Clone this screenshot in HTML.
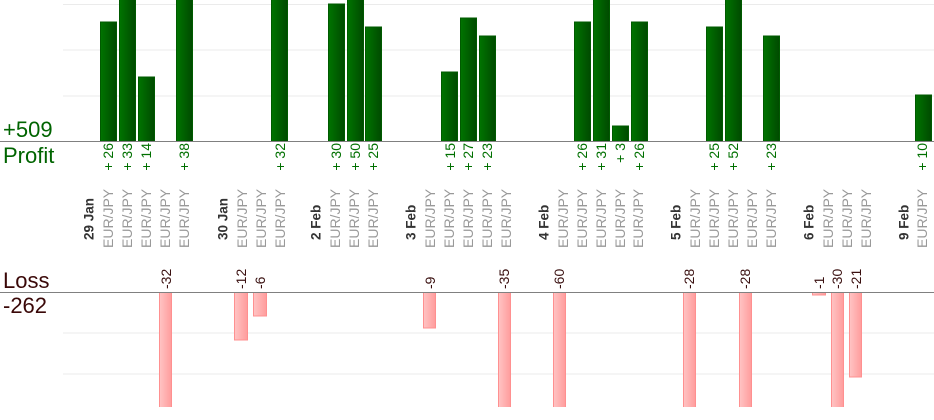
<!DOCTYPE html>
<html><head><meta charset="utf-8"><style>
html,body{margin:0;padding:0;background:#fff;}
svg{display:block;font-family:"Liberation Sans",sans-serif;}
</style></head><body>
<svg width="934" height="420" xmlns="http://www.w3.org/2000/svg">
<defs>
<linearGradient id="g" x1="0" x2="1" y1="0" y2="0"><stop offset="0" stop-color="#007400"/><stop offset="1" stop-color="#004a00"/></linearGradient>
<linearGradient id="r" x1="0" x2="1" y1="0" y2="0"><stop offset="0" stop-color="#ffc4c4"/><stop offset="1" stop-color="#ff9c9c"/></linearGradient>
<clipPath id="cp"><rect x="0" y="0" width="934" height="141"/></clipPath>
<clipPath id="cl"><rect x="0" y="292" width="934" height="115"/></clipPath>
</defs>
<g stroke="#ebebeb" stroke-width="1">
<line x1="63" x2="934" y1="4.5" y2="4.5"/><line x1="63" x2="934" y1="50" y2="50"/><line x1="63" x2="934" y1="96" y2="96"/>
<line x1="63" x2="934" y1="333" y2="333"/><line x1="63" x2="934" y1="374" y2="374"/>
</g>
<g clip-path="url(#cp)" fill="url(#g)" stroke="#005a00" stroke-width="1">
<rect x="100.5" y="22" width="16" height="120"/>
<rect x="119.5" y="-10" width="16" height="152"/>
<rect x="138.5" y="77" width="16" height="65"/>
<rect x="176.5" y="-10" width="16" height="152"/>
<rect x="271.5" y="-10" width="16" height="152"/>
<rect x="328.5" y="4" width="16" height="138"/>
<rect x="347.5" y="-10" width="16" height="152"/>
<rect x="365.5" y="27" width="16" height="115"/>
<rect x="441.5" y="72" width="16" height="70"/>
<rect x="460.5" y="18" width="16" height="124"/>
<rect x="479.5" y="36" width="16" height="106"/>
<rect x="574.5" y="22" width="16" height="120"/>
<rect x="593.5" y="-10" width="16" height="152"/>
<rect x="612.5" y="126" width="16" height="16"/>
<rect x="631.5" y="22" width="16" height="120"/>
<rect x="706.5" y="27" width="16" height="115"/>
<rect x="725.5" y="-10" width="16" height="152"/>
<rect x="763.5" y="36" width="16" height="106"/>
<rect x="915.5" y="95" width="16" height="47"/>
</g>
<line x1="0" x2="934" y1="141.5" y2="141.5" stroke="#808080"/>
<g clip-path="url(#cl)" fill="url(#r)" stroke="#ff9090" stroke-width="1">
<rect x="159.5" y="292" width="12" height="130"/>
<rect x="234.5" y="292" width="13" height="48"/>
<rect x="253.5" y="292" width="13" height="24"/>
<rect x="423.5" y="292" width="12" height="36"/>
<rect x="498.5" y="292" width="12" height="130"/>
<rect x="553.5" y="292" width="12" height="130"/>
<rect x="683.5" y="292" width="12" height="130"/>
<rect x="739.5" y="292" width="12" height="130"/>
<rect x="812.5" y="292" width="13" height="3"/>
<rect x="831.5" y="292" width="12" height="130"/>
<rect x="849.5" y="292" width="12" height="85"/>
</g>
<line x1="0" x2="934" y1="292.5" y2="292.5" stroke="#808080"/>
<text x="3" y="137" font-size="22" fill="#006400">+509</text>
<text x="3" y="163" font-size="22" fill="#006400">Profit</text>
<text x="3" y="288" font-size="22" fill="#3a0808">Loss</text>
<text x="3" y="313" font-size="22" fill="#3a0808">-262</text>
<g font-size="14" fill="#007000" text-anchor="end" dominant-baseline="central">
<text transform="translate(108,143) rotate(-90)">+ 26</text>
<text transform="translate(127,143) rotate(-90)">+ 33</text>
<text transform="translate(146,143) rotate(-90)">+ 14</text>
<text transform="translate(184,143) rotate(-90)">+ 38</text>
<text transform="translate(280,143) rotate(-90)">+ 32</text>
<text transform="translate(336,143) rotate(-90)">+ 30</text>
<text transform="translate(355,143) rotate(-90)">+ 50</text>
<text transform="translate(373,143) rotate(-90)">+ 25</text>
<text transform="translate(450,143) rotate(-90)">+ 15</text>
<text transform="translate(468,143) rotate(-90)">+ 27</text>
<text transform="translate(487,143) rotate(-90)">+ 23</text>
<text transform="translate(582,143) rotate(-90)">+ 26</text>
<text transform="translate(601,143) rotate(-90)">+ 31</text>
<text transform="translate(620,143) rotate(-90)">+ 3</text>
<text transform="translate(639,143) rotate(-90)">+ 26</text>
<text transform="translate(714,143) rotate(-90)">+ 25</text>
<text transform="translate(733,143) rotate(-90)">+ 52</text>
<text transform="translate(771,143) rotate(-90)">+ 23</text>
<text transform="translate(922,143) rotate(-90)">+ 10</text>
</g>
<g font-size="14" fill="#3a1010" dominant-baseline="central">
<text transform="translate(166,289) rotate(-90)">-32</text>
<text transform="translate(241,289) rotate(-90)">-12</text>
<text transform="translate(260,289) rotate(-90)">-6</text>
<text transform="translate(430,289) rotate(-90)">-9</text>
<text transform="translate(504,289) rotate(-90)">-35</text>
<text transform="translate(559,289) rotate(-90)">-60</text>
<text transform="translate(689,289) rotate(-90)">-28</text>
<text transform="translate(745,289) rotate(-90)">-28</text>
<text transform="translate(819,289) rotate(-90)">-1</text>
<text transform="translate(837,289) rotate(-90)">-30</text>
<text transform="translate(856,289) rotate(-90)">-21</text>
</g>
<g font-size="13.5" font-weight="bold" fill="#333" dominant-baseline="central">
<text transform="translate(89,240) rotate(-90)">29 Jan</text>
<text transform="translate(223,240) rotate(-90)">30 Jan</text>
<text transform="translate(316,240) rotate(-90)">2 Feb</text>
<text transform="translate(411,240) rotate(-90)">3 Feb</text>
<text transform="translate(544,240) rotate(-90)">4 Feb</text>
<text transform="translate(676,240) rotate(-90)">5 Feb</text>
<text transform="translate(809,240) rotate(-90)">6 Feb</text>
<text transform="translate(904,240) rotate(-90)">9 Feb</text>
</g>
<g font-size="14" fill="#999" dominant-baseline="central">
<text transform="translate(108,248) rotate(-90)">EUR/JPY</text>
<text transform="translate(127,248) rotate(-90)">EUR/JPY</text>
<text transform="translate(146,248) rotate(-90)">EUR/JPY</text>
<text transform="translate(165,248) rotate(-90)">EUR/JPY</text>
<text transform="translate(184,248) rotate(-90)">EUR/JPY</text>
<text transform="translate(242,248) rotate(-90)">EUR/JPY</text>
<text transform="translate(261,248) rotate(-90)">EUR/JPY</text>
<text transform="translate(280,248) rotate(-90)">EUR/JPY</text>
<text transform="translate(335,248) rotate(-90)">EUR/JPY</text>
<text transform="translate(354,248) rotate(-90)">EUR/JPY</text>
<text transform="translate(373,248) rotate(-90)">EUR/JPY</text>
<text transform="translate(430,248) rotate(-90)">EUR/JPY</text>
<text transform="translate(449,248) rotate(-90)">EUR/JPY</text>
<text transform="translate(468,248) rotate(-90)">EUR/JPY</text>
<text transform="translate(487,248) rotate(-90)">EUR/JPY</text>
<text transform="translate(506,248) rotate(-90)">EUR/JPY</text>
<text transform="translate(563,248) rotate(-90)">EUR/JPY</text>
<text transform="translate(582,248) rotate(-90)">EUR/JPY</text>
<text transform="translate(601,248) rotate(-90)">EUR/JPY</text>
<text transform="translate(620,248) rotate(-90)">EUR/JPY</text>
<text transform="translate(638,248) rotate(-90)">EUR/JPY</text>
<text transform="translate(695,248) rotate(-90)">EUR/JPY</text>
<text transform="translate(714,248) rotate(-90)">EUR/JPY</text>
<text transform="translate(733,248) rotate(-90)">EUR/JPY</text>
<text transform="translate(752,248) rotate(-90)">EUR/JPY</text>
<text transform="translate(771,248) rotate(-90)">EUR/JPY</text>
<text transform="translate(828,248) rotate(-90)">EUR/JPY</text>
<text transform="translate(847,248) rotate(-90)">EUR/JPY</text>
<text transform="translate(866,248) rotate(-90)">EUR/JPY</text>
<text transform="translate(922,248) rotate(-90)">EUR/JPY</text>
</g>
</svg>
</body></html>
